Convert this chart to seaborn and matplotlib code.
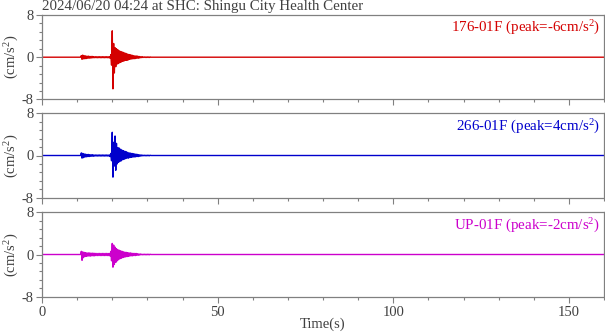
import numpy as np
import pandas as pd
import matplotlib
matplotlib.use("Agg")
import matplotlib.pyplot as plt
import seaborn as sns
from matplotlib.ticker import MultipleLocator

# ---- record info -------------------------------------------------------
title = "2024/06/20 04:24 at SHC: Shingu City Health Center"
channels = ["176-01F", "266-01F", "UP-01F"]
colors = ["#d40000", "#0000cc", "#cc00cc"]
t_end = 160.0

# ---- acceleration samples (cm/s^2) -------------------------------------
# P-phase window: starts at 11.0 s, one extreme every 0.2 s
p_start, p_step = 11.0, 0.2
p_176 = [0.0, 0.3, -0.4, 0.4, -0.3, 0.3, -0.3, 0.25, -0.25, 0.2, -0.2, 0.2,
         -0.2, 0.15, -0.15, 0.15, -0.15, 0.15, -0.1, 0.1, -0.1, 0.1, -0.1,
         0.1, -0.1, 0.1, -0.1, 0.1, -0.1, 0.1, -0.1, 0.1, -0.1, 0.1, -0.1,
         0.1, -0.1, 0.1, -0.1, 0.1, -0.1, 0.1]
p_266 = [0.0, 0.5, -0.5, 0.4, -0.4, 0.3, -0.3, 0.25, -0.25, 0.2, -0.2, 0.2,
         -0.2, 0.15, -0.15, 0.15, -0.15, 0.15, -0.15, 0.1, -0.1, 0.1, -0.1,
         0.1, -0.1, 0.1, -0.1, 0.1, -0.1, 0.1, -0.1, 0.1, -0.1, 0.1, -0.1,
         0.1, -0.1, 0.1, -0.1, 0.1, -0.1, 0.1]
p_up = [0.0, 0.6, -1.1, 0.5, -0.6, 0.4, -0.4, 0.35, -0.35, 0.3, -0.3, 0.3,
        -0.3, 0.3, -0.3, 0.25, -0.25, 0.25, -0.25, 0.25, -0.25, 0.2, -0.2,
        0.2, -0.2, 0.2, -0.2, 0.2, -0.2, 0.2, -0.2, 0.2, -0.2, 0.2, -0.2,
        0.2, -0.2, 0.2, -0.2, 0.2, -0.2, 0.2]

# S-phase window: starts at 19.4 s, one extreme every 0.2 s
s_start, s_step = 19.4, 0.2
s_176 = [-0.2, 0.5, -1.5, 5.0, -6.0, 2.6, -3.0, 1.8, -1.8, 1.6, -1.3, 1.4,
         -1.2, 1.2, -1.0, 1.1, -0.9, 1.0, -0.8, 0.9, -0.7, 0.8, -0.6, 0.7,
         -0.6, 0.6, -0.5, 0.5, -0.4, 0.45, -0.35, 0.4, -0.3, 0.3, -0.3,
         0.25, -0.25, 0.25, -0.2, 0.2, -0.2, 0.15, -0.15, 0.1, -0.1, 0.1,
         -0.05, 0.05, -0.05, 0.05, -0.05, 0.05, -0.05, 0.05, -0.05, 0.05,
         -0.05, 0.05, 0.0]
s_266 = [-0.2, 0.4, -1.0, 4.4, -4.1, 2.5, -2.0, 3.7, -2.8, 2.3, -1.6, 1.5,
         -1.3, 1.4, -1.1, 1.2, -1.0, 1.0, -0.8, 0.9, -0.7, 0.8, -0.6, 0.7,
         -0.5, 0.6, -0.5, 0.5, -0.4, 0.45, -0.35, 0.4, -0.3, 0.35, -0.3,
         0.3, -0.25, 0.25, -0.2, 0.2, -0.2, 0.15, -0.15, 0.1, -0.1, 0.1,
         -0.05, 0.05, -0.05, 0.05, -0.05, 0.05, -0.05, 0.05, -0.05, 0.05,
         -0.05, 0.05, 0.0]
s_up = [-0.3, 0.6, -1.2, 2.1, -2.4, 1.8, -1.9, 1.4, -1.5, 1.1, -1.2, 0.9,
        -1.0, 0.8, -0.8, 0.7, -0.7, 0.6, -0.6, 0.5, -0.5, 0.45, -0.45, 0.4,
        -0.4, 0.35, -0.35, 0.3, -0.3, 0.3, -0.25, 0.25, -0.25, 0.2, -0.2,
        0.2, -0.2, 0.2, -0.15, 0.15, -0.15, 0.1, -0.1, 0.1, -0.05, 0.05,
        -0.05, 0.05, -0.05, 0.05, -0.05, 0.05, -0.05, 0.05, -0.05, 0.05,
        -0.05, 0.05, 0.0]

p_windows = [p_176, p_266, p_up]
s_windows = [s_176, s_266, s_up]

x_major = [0, 50, 100, 150]
y_major = [-8, 0, 8]
y_lim = (-8, 8)


def build_trace(p_vals, s_vals):
    tp = p_start + p_step * np.arange(len(p_vals))
    ts = s_start + s_step * np.arange(len(s_vals))
    t = np.concatenate([[0.0], tp, ts, [t_end]])
    a = np.concatenate([[0.0], p_vals, s_vals, [0.0]])
    return pd.DataFrame({"t": t, "acc": a})


# ---- styling ------------------------------------------------------------
sns.set_style("ticks")
plt.rcParams["font.family"] = ["Liberation Serif", "DejaVu Serif"]
plt.rcParams["mathtext.fontset"] = "custom"
plt.rcParams["mathtext.rm"] = "Liberation Serif"
plt.rcParams["mathtext.default"] = "regular"

text_col = "#404040"
spine_col = "#808080"
fs_tick = 10.5
fs_text = 10.8

fig = plt.figure(figsize=(6.05, 3.34), dpi=100)
W, H = 605.0, 334.0
left, right = 42.0, 604.0
panel_tops = [15.0, 113.3, 212.3]
panel_h = 84.4

axes = []
for i, (name, col, pv, sv) in enumerate(zip(channels, colors, p_windows, s_windows)):
    top = panel_tops[i]
    ax = fig.add_axes([left / W, 1 - (top + panel_h) / H,
                       (right - left) / W, panel_h / H])
    df = build_trace(pv, sv)
    sns.lineplot(data=df, x="t", y="acc", ax=ax, color=col, lw=1.0,
                 estimator=None, sort=False, legend=False)

    ax.set_xlim(0, t_end)
    ax.set_ylim(*y_lim)
    ax.set_xticks(x_major)
    ax.xaxis.set_minor_locator(MultipleLocator(10))
    ax.set_yticks(y_major)
    ax.set_yticklabels([str(v) for v in y_major])
    ax.yaxis.set_minor_locator(MultipleLocator(1.6))
    ax.tick_params(axis="both", which="major", direction="out", length=4,
                   width=0.8, color=spine_col, labelcolor=text_col,
                   labelsize=fs_tick, pad=2)
    ax.tick_params(axis="both", which="minor", direction="out", length=2.5,
                   width=0.8, color=spine_col)
    ax.tick_params(axis="x", which="major", pad=3)
    for sp in ax.spines.values():
        sp.set_color(spine_col)
        sp.set_linewidth(0.9)
        sp.set_visible(True)

    ax.set_ylabel("(cm/s$^{2}$)", color=text_col, fontsize=fs_tick)
    ax.yaxis.label.set_va("center")
    ax.yaxis.set_label_coords(-0.053, 0.5)
    ax.set_xlabel("")
    if i < 2:
        ax.tick_params(axis="x", labelbottom=False)

    acc = df["acc"].to_numpy()
    peak = acc[np.argmax(np.abs(acc))]
    ax.text(0.993, 0.95, f"{name} (peak={peak:.0f}cm/s$^{{2}}$)",
            transform=ax.transAxes, ha="right", va="top", color=col,
            fontsize=fs_text)
    axes.append(ax)

axes[-1].set_xlabel("Time(s)", color=text_col, fontsize=fs_tick)
axes[-1].xaxis.set_label_coords(0.5, -0.246)

fig.text(left / W, 1 - 0.3 / H, title, ha="left", va="top",
         color=text_col, fontsize=fs_text)

fig.savefig("out.png", dpi=100)
